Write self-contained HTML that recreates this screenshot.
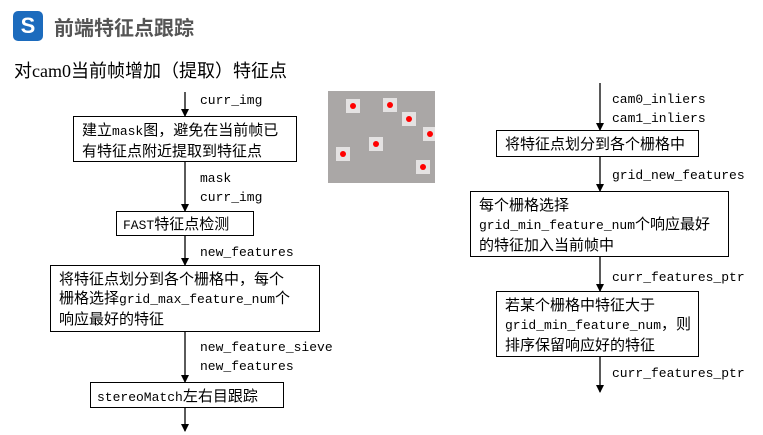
<!DOCTYPE html>
<html><head><meta charset="utf-8"><style>
body{margin:0;width:763px;height:435px;background:#fff;position:relative;overflow:hidden;font-family:"Liberation Mono","WenQuanYi Zen Hei","Noto Sans CJK SC",monospace;color:#000}
.a{position:absolute}
.box{position:absolute;border:1.3px solid #000;box-sizing:border-box;font-size:15px;line-height:19px;padding:2px 6px;white-space:nowrap;font-family:"WenQuanYi Zen Hei","Noto Sans CJK SC",sans-serif}
.m{font-family:"Liberation Mono",monospace;font-size:13px}
.lb{position:absolute;font-size:13px;line-height:19px;white-space:nowrap}
.dot{position:absolute;width:14px;height:14px;background:#e4e2e2}
.dot:after{content:"";position:absolute;left:4px;top:4px;width:6px;height:6px;border-radius:50%;background:#f00}
</style></head><body>
<div class="a" style="left:13px;top:11px;width:30px;height:30px;background:#1c6bbd;border-radius:5px;color:#fff;font:bold 22px 'Liberation Sans',sans-serif;text-align:center;line-height:30px">S</div>
<div class="a" style="left:54px;top:12px;font:bold 20px 'Liberation Sans','Noto Sans CJK SC',sans-serif;color:#555">前端特征点跟踪</div>
<div class="a" style="left:14px;top:57px;font:18px 'Liberation Serif','Noto Sans CJK SC',sans-serif">对cam0当前帧增加（提取）特征点</div>
<svg class="a" style="left:0;top:0" width="763" height="435">
<defs><marker id="m" markerWidth="8" markerHeight="8" refX="7" refY="4" orient="auto" markerUnits="userSpaceOnUse"><path d="M0,0L8,4L0,8z"/></marker></defs>
<g stroke="#000" stroke-width="1.3" marker-end="url(#m)">
<line x1="185" y1="92" x2="185" y2="116"/>
<line x1="185" y1="162" x2="185" y2="211"/>
<line x1="185" y1="236" x2="185" y2="265"/>
<line x1="185" y1="332" x2="185" y2="382"/>
<line x1="185" y1="408" x2="185" y2="431"/>
<line x1="600" y1="83" x2="600" y2="130"/>
<line x1="600" y1="157" x2="600" y2="191"/>
<line x1="600" y1="257" x2="600" y2="291"/>
<line x1="600" y1="357" x2="600" y2="392"/>
</g></svg>
<div class="box" style="left:73px;top:116px;width:224px;height:46px;padding:3px 8px">建立<span class="m">mask</span>图，避免在当前帧已<br>有特征点附近提取到特征点</div>
<div class="box" style="left:116px;top:211px;width:138px;height:25px;padding:2px 6px"><span class="m">FAST</span>特征点检测</div>
<div class="box" style="left:50px;top:265px;width:270px;height:67px;padding:3px 8px">将特征点划分到各个栅格中，每个<br>栅格选择<span class="m">grid_max_feature_num</span>个<br>响应最好的特征</div>
<div class="box" style="left:90px;top:382px;width:194px;height:26px;padding:3px 6px"><span class="m">stereoMatch</span>左右目跟踪</div>
<div class="lb" style="left:200px;top:91px">curr_img</div>
<div class="lb" style="left:200px;top:169px">mask</div>
<div class="lb" style="left:200px;top:188px">curr_img</div>
<div class="lb" style="left:200px;top:243px">new_features</div>
<div class="lb" style="left:200px;top:338px">new_feature_sieve</div>
<div class="lb" style="left:200px;top:357px">new_features</div>
<div class="a" style="left:328px;top:91px;width:107px;height:92px;background:#aaa7a6;overflow:hidden">
<div class="dot" style="left:18px;top:8px"></div><div class="dot" style="left:55px;top:7px"></div><div class="dot" style="left:74px;top:21px"></div><div class="dot" style="left:95px;top:36px"></div><div class="dot" style="left:41px;top:46px"></div><div class="dot" style="left:8px;top:56px"></div><div class="dot" style="left:88px;top:69px"></div>
</div>
<div class="box" style="left:496px;top:130px;width:203px;height:27px;padding:3px 8px">将特征点划分到各个栅格中</div>
<div class="box" style="left:470px;top:191px;width:259px;height:66px;padding:3px 8px">每个栅格选择<br><span class="m">grid_min_feature_num</span>个响应最好<br>的特征加入当前帧中</div>
<div class="box" style="left:496px;top:291px;width:203px;height:66px;padding:3px 8px">若某个栅格中特征大于<br><span class="m">grid_min_feature_num</span>，则<br>排序保留响应好的特征</div>
<div class="lb" style="left:612px;top:90px">cam0_inliers</div>
<div class="lb" style="left:612px;top:109px">cam1_inliers</div>
<div class="lb" style="left:612px;top:166px">grid_new_features</div>
<div class="lb" style="left:612px;top:268px">curr_features_ptr</div>
<div class="lb" style="left:612px;top:364px">curr_features_ptr</div>
</body></html>
